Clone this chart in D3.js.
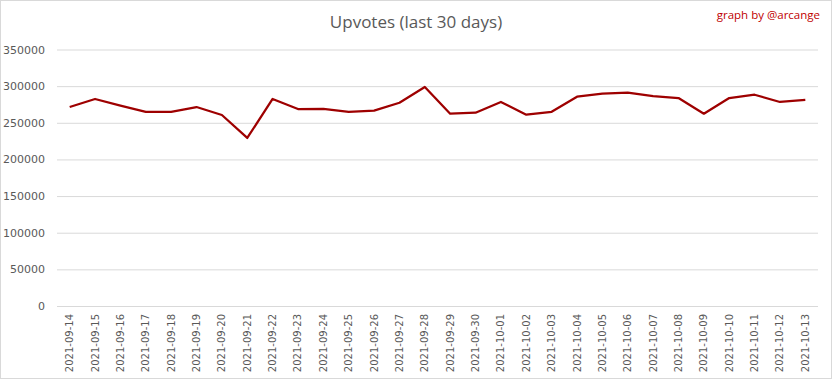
<!DOCTYPE html>
<html>
<head>
<meta charset="utf-8">
<script src="https://cdn.jsdelivr.net/npm/d3@7"></script>
<style>
  body { margin: 0; background: #fff; }
  text { font-family: 'Open Sans', sans-serif; }
</style>
</head>
<body>
<div id="chart"></div>
<script>
const dates = ['2021-09-14', '2021-09-15', '2021-09-16', '2021-09-17', '2021-09-18', '2021-09-19',
  '2021-09-20', '2021-09-21', '2021-09-22', '2021-09-23', '2021-09-24', '2021-09-25', '2021-09-26',
  '2021-09-27', '2021-09-28', '2021-09-29', '2021-09-30', '2021-10-01', '2021-10-02', '2021-10-03',
  '2021-10-04', '2021-10-05', '2021-10-06', '2021-10-07', '2021-10-08', '2021-10-09', '2021-10-10',
  '2021-10-11', '2021-10-12', '2021-10-13']
const upvotes = [271500, 282500, 273500, 265000, 265000, 271500, 260600, 229300, 282500, 268800,
  269000, 265000, 266500, 277400, 298800, 262400, 263800, 278400, 261000, 265000,
  285600, 289700, 291100, 286500, 283800, 262400, 283800, 288300, 278400, 281100]
const yTicks = [0, 50000, 100000, 150000, 200000, 250000, 300000, 350000]

const W = 832, H = 379
const margin = { top: 49.5, right: 14, bottom: 73, left: 57 }
const width = W - margin.left - margin.right,
  height = H - margin.top - margin.bottom

const svg = d3.select('#chart')
  .append('svg')
  .attr('width', W)
  .attr('height', H)

svg.append('rect')
  .attr('x', 0.5).attr('y', 0.5)
  .attr('width', W - 1).attr('height', H - 1)
  .attr('fill', '#fff')
  .attr('stroke', '#d9d9d9')

let xScale = d3.scaleBand()
  .domain(dates)
  .range([0, width])

let yScale = d3.scaleLinear()
  .domain([0, 350000])
  .range([height, 0])

let g = svg.append('g')
  .attr('transform', 'translate(' + margin.left + ',' + margin.top + ')')

// gridlines + y labels
let yAxis = d3.axisLeft(yScale).tickValues(yTicks).tickSize(-width).tickFormat(d3.format('d'))
let yGuide = g.append('g').call(yAxis)
yGuide.select('.domain').remove()
yGuide.selectAll('line').attr('stroke', '#d9d9d9')
yGuide.selectAll('text')
  .attr('x', -12)
  .attr('fill', '#595959')
  .style('font-size', '11px')
  .style('font-family', "'DejaVu Sans', sans-serif")

// x labels
let xAxis = d3.axisBottom(xScale).tickSize(0)
let xGuide = g.append('g')
  .attr('transform', 'translate(0,' + height + ')')
  .call(xAxis)
xGuide.select('.domain').remove()
xGuide.selectAll('text')
  .attr('transform', 'rotate(-90)')
  .attr('x', -8)
  .attr('y', 0)
  .attr('dy', '0.35em')
  .attr('text-anchor', 'end')
  .attr('fill', '#595959')
  .style('font-size', '10px')
  .style('font-family', "'DejaVu Sans', sans-serif")

// line
let line = d3.line()
  .x((d, i) => xScale(dates[i]) + xScale.bandwidth() / 2)
  .y(d => yScale(d))

g.append('path')
  .datum(upvotes)
  .attr('d', line)
  .attr('fill', 'none')
  .attr('stroke', '#9e0000')
  .attr('stroke-width', 2.25)
  .attr('stroke-linejoin', 'round')

// title
svg.append('text')
  .attr('x', 416)
  .attr('y', 28)
  .attr('text-anchor', 'middle')
  .attr('fill', '#595959')
  .style('font-size', '17px')
  .text('Upvotes (last 30 days)')

svg.append('text')
  .attr('x', 820)
  .attr('y', 19)
  .attr('text-anchor', 'end')
  .attr('fill', '#c00000')
  .style('font-size', '11.5px')
  .text('graph by @arcange')
</script>
</body>
</html>
